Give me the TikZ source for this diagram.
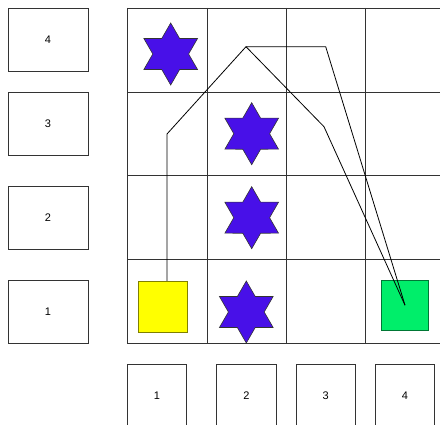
\documentclass[tikz,border=0pt]{standalone}
\usepackage{fontspec}
\setmainfont{Liberation Sans}
\usetikzlibrary{shapes.geometric,positioning}
\definecolor{gempurple}{HTML}{4810E8}
\definecolor{startyellow}{HTML}{FFFF00}
\definecolor{goalgreen}{HTML}{00EE6A}
\definecolor{bk80}{HTML}{333333}
\tikzset{
  rowbox/.style={
    rectangle, draw=bk80, line width=0.9pt,
    minimum width=80pt, minimum height=63pt,
    font=\fontsize{11}{13}\selectfont, inner sep=0pt
  },
  colbox/.style={
    rectangle, draw=bk80, line width=0.9pt,
    minimum width=59.5pt, minimum height=63pt,
    font=\fontsize{11}{13}\selectfont, inner sep=0pt
  },
  gridline/.style={draw=bk80, line width=0.9pt},
  gem/.style={
    star, star points=6, star point ratio=1.732,
    draw=bk80, fill=gempurple, line width=0.6pt,
    minimum size=62pt, inner sep=0pt
  },
  tile/.style={
    rectangle, draw=#1!50!black, fill=#1, line width=0.7pt,
    inner sep=0pt
  },
  route/.style={draw=black, line width=0.8pt},
}

\begin{document}
\begin{tikzpicture}[x=1pt,y=-1pt]
  \clip (0,0) rectangle (440,425);
  \fill[white] (0,0) rectangle (440,425);

  % grid
  \foreach \gx in {127,207,286,365.5,445}
    \draw[gridline] (\gx,8) -- (\gx,343);
  \foreach \gy in {8,92,175.7,259.3,343}
    \draw[gridline] (127,\gy) -- (445,\gy);

  % row numbers
  \node[rowbox] (r4) at (48,39.5) {4};
  \node[rowbox] (r3) at (48,123.5) {3};
  \node[rowbox] (r2) at (48,217.5) {2};
  \node[rowbox] (r1) at (48,312) {1};

  % column numbers
  \node[colbox] (c1) at (157,395.5) {1};
  \node[colbox] (c2) at (246.5,395.5) {2};
  \node[colbox] (c3) at (325.7,395.5) {3};
  \node[colbox] (c4) at (405,395.5) {4};

  % stars
  \node[gem] (g14) at (170.7,54) {};
  \node[gem] (g23) at (251.7,133.7) {};
  \node[gem] (g22) at (251.7,217.7) {};
  \node[gem] (g21) at (246.3,312) {};

  % goal
  \node[tile=goalgreen, minimum width=47pt, minimum height=50pt] (goal) at (405,305.2) {};

  % routes
  \coordinate (s0) at (167,281);
  \coordinate (w1) at (167,134);
  \coordinate (w2) at (246,46.7);
  \coordinate (w3) at (325.7,46.7);
  \coordinate (w4) at (324,126.7);
  \draw[route] (s0) -- (w1) -- (w2) -- (w3) -- (goal.center);
  \draw[route] (w2) -- (w4) -- (goal.center);

  % start
  \node[tile=startyellow, minimum width=49pt, minimum height=51pt] (start) at (162.5,306.5) {};
\end{tikzpicture}
\end{document}
